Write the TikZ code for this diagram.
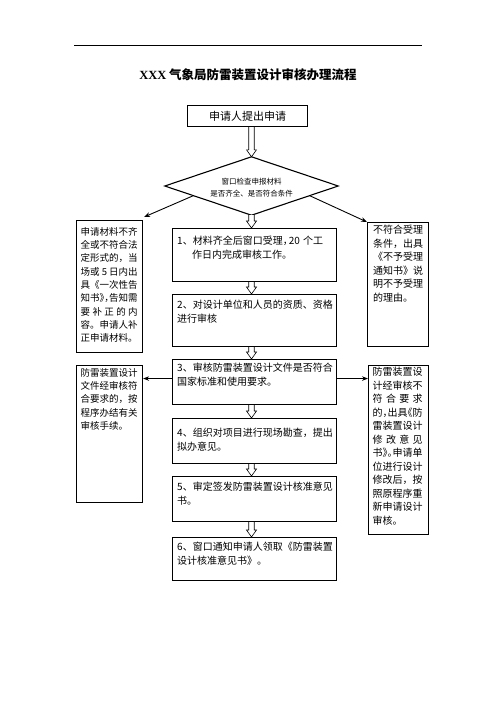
\documentclass[tikz,border=0pt]{standalone}
\usepackage{fontspec}
\setmainfont{Noto Sans CJK SC}
\newfontfamily\titlelat{Liberation Serif}
\usetikzlibrary{arrows.meta,calc}
\XeTeXlinebreaklocale "zh"
\newcommand\hollowarr[2]{%
  \draw[harr] let \p1=(#1.south -| chk.center), \p2=(#2.north -| chk.center) in
    (\x1-2.75pt,\y1) -- (\x1-2.75pt,\y2+7pt) -- (\x1-5pt,\y2+7pt) -- (\x2,\y2)
    -- (\x1+5pt,\y2+7pt) -- (\x1+2.75pt,\y2+7pt) -- (\x1+2.75pt,\y1);}
\begin{document}
\begin{tikzpicture}[x=1pt,y=-1pt,
  frame/.style={draw, line width=1.1pt, inner sep=0pt, anchor=north west},
  ctext/.style={anchor=north west, inner sep=0pt, text width=158pt, align=left,
                font=\fontsize{10}{14}\selectfont},
  ltext/.style={anchor=north west, inner sep=0pt, text width=57pt, align=left,
                font=\fontsize{9.5}{13.3}\selectfont},
  rtext/.style={anchor=north west, inner sep=0pt, text width=50pt, align=left,
                font=\fontsize{10}{13.5}\selectfont},
  conn/.style={line width=0.9pt, -{Stealth[length=6pt,width=4.5pt]}},
  harr/.style={line width=0.6pt, fill=white},
]
\useasboundingbox (0,0) rectangle (496,702);
\fill[white] (0,0) rectangle (496,702);
% header rule and title
\draw[line width=0.8pt] (74,45) -- (422,45);
\node[font=\fontsize{12.5}{14}\selectfont\bfseries] (title) at (248,75)
  {{\titlelat\bfseries XXX} 气象局防雷装置设计审核办理流程};
% start box
\node[frame, minimum width=120pt, minimum height=21pt] (apply) at (187,105) {};
\node[font=\fontsize{11}{13}\selectfont] (applyt) at (apply.center) {申请人提出申请};
% decision diamond
\node[minimum width=173pt, minimum height=58pt, inner sep=0pt] (chk) at (251.5,186) {};
\draw[line width=1.1pt] (chk.north) -- (chk.east) -- (chk.south) -- (chk.west) -- cycle;
\node[align=center, font=\fontsize{7.5}{11.5}\selectfont] (chkt) at ($(chk.center)+(0,1.5)$)
  {窗口检查申报材料\\是否齐全、是否符合条件};
% center boxes
\node[frame, minimum width=164pt, minimum height=53pt] (b1) at (172,228) {};
\node[frame, minimum width=164pt, minimum height=52pt] (b2) at (172,294) {};
\node[frame, minimum width=164pt, minimum height=45pt] (b3) at (172,359) {};
\node[frame, minimum width=164pt, minimum height=45pt] (b4) at (172,418) {};
\node[frame, minimum width=164pt, minimum height=45pt] (b5) at (172,476) {};
\node[frame, minimum width=164pt, minimum height=43pt] (b6) at (172,537) {};
\node[ctext] (t1) at ($(b1.north west)+(5,8)$)
  {1、材料齐全后窗口受理，\kern-.4em 20 个工\\\hspace*{1.5em}作日内完成审核工作。};
\node[ctext] (t2) at ($(b2.north west)+(5,6)$)
  {2、对设计单位和人员的资质、资格\\进行审核};
\node[ctext] (t3) at ($(b3.north west)+(5,4)$)
  {3、审核防雷装置设计文件是否符合\\国家标准和使用要求。};
\node[ctext] (t4) at ($(b4.north west)+(5,10)$)
  {4、组织对项目进行现场勘查，提出\\拟办意见。};
\node[ctext] (t5) at ($(b5.north west)+(5,6)$)
  {5、审定签发防雷装置设计核准意见\\书。};
\node[ctext] (t6) at ($(b6.north west)+(5,5)$)
  {6、窗口通知申请人领取《防雷装置\\设计核准意见书》。};
% side boxes
\node[frame, minimum width=66pt, minimum height=132pt] (l1) at (76,220) {};
\node[frame, minimum width=61pt, minimum height=124pt] (r1) at (367,222) {};
\node[frame, minimum width=66pt, minimum height=137pt] (l2) at (76,365) {};
\node[frame, minimum width=60pt, minimum height=169pt] (r2) at (368,365) {};
\node[ltext] (tl1) at ($(l1.north west)+(4.5,7)$)
  {申请材料不齐\\全或不符合法\\定形式的，当\\场或\hfill 5\hfill 日内出\\具《一次性告\\
   知书》\kern-.5em，\kern-.5em告知需\\要\hfill 补\hfill 正\hfill 的\hfill 内\\容。申请人补\\正申请材料。};
\node[rtext] (tr1) at ($(r1.north west)+(6,3)$)
  {不符合受理\\条\hfill 件\hfill ，\hfill 出\hfill 具\\《不予受理\\通\hfill 知\hfill 书\hfill 》\hfill 说\\明不予受理\\的理由。};
\node[ltext] (tl2) at ($(l2.north west)+(4.5,3)$)
  {防雷装置设计\\文件经审核符\\合要求的，按\\程序办结有关\\审核手续。};
\node[rtext] (tr2) at ($(r2.north west)+(4.5,2)$)
  {防雷装置设\\计经审核不\\符\hfill 合\hfill 要\hfill 求\\的，\kern-.5em出具\kern-.5em《防\\雷装置设计\\
   修\hfill 改\hfill 意\hfill 见\\书》\kern-.5em。\kern-.5em申请单\\位进行设计\\修改后，按\\照原程序重\\新申请设计\\审核。};
% hollow flow arrows
\hollowarr{apply}{chk}
\hollowarr{chk}{b1}
\hollowarr{b1}{b2}
\hollowarr{b2}{b3}
\hollowarr{b3}{b4}
\hollowarr{b4}{b5}
\hollowarr{b5}{b6}
% branch arrows
\draw[conn] ($(chk.west)!0.33!(chk.south)$) -- ($(l1.north east)+(1,-3)$);
\draw[conn] ($(chk.east)!0.33!(chk.south)$) -- (r1.north west);
\coordinate (b3l) at ($(b3.west)+(0,-3.5)$);
\coordinate (b3r) at ($(b3.east)+(0,-3.5)$);
\draw[conn] (b3l) -- (b3l -| l2.east);
\draw[conn] (b3r) -- (b3r -| r2.west);
\end{tikzpicture}
\end{document}
